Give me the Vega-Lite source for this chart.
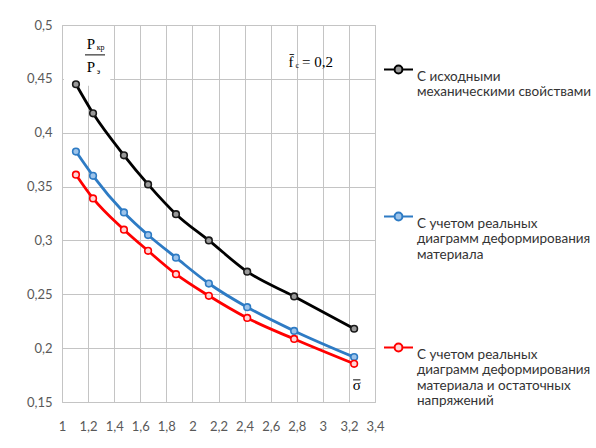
{
  "$schema": "https://vega.github.io/schema/vega-lite/v6.json",
  "width": 313,
  "height": 377,
  "autosize": {"type": "none"},
  "padding": {"left": 62, "top": 25, "right": 221, "bottom": 46},
  "background": "white",
  "config": {
    "view": {"stroke": "#bfbfbf", "strokeWidth": 1},
    "font": "Lato",
    "axis": {"grid": true, "gridColor": "#c4c4c4", "gridOpacity": 1, "gridWidth": 1, "domain": false, "ticks": false, "labelFont": "Lato", "labelFontSize": 13, "labelColor": "#595959", "labelOverlap": false, "labelFlush": false}
  },
  "datasets": {
    "curves": [
      {"series": "A", "sigma": 1.107, "ratio": 0.445},
      {"series": "A", "sigma": 1.238, "ratio": 0.418},
      {"series": "A", "sigma": 1.475, "ratio": 0.379},
      {"series": "A", "sigma": 1.66, "ratio": 0.352},
      {"series": "A", "sigma": 1.874, "ratio": 0.3244},
      {"series": "A", "sigma": 2.126, "ratio": 0.30},
      {"series": "A", "sigma": 2.42, "ratio": 0.271},
      {"series": "A", "sigma": 2.78, "ratio": 0.248},
      {"series": "A", "sigma": 3.24, "ratio": 0.218},
      {"series": "B", "sigma": 1.107, "ratio": 0.3825},
      {"series": "B", "sigma": 1.238, "ratio": 0.36},
      {"series": "B", "sigma": 1.475, "ratio": 0.326},
      {"series": "B", "sigma": 1.66, "ratio": 0.305},
      {"series": "B", "sigma": 1.874, "ratio": 0.284},
      {"series": "B", "sigma": 2.126, "ratio": 0.26},
      {"series": "B", "sigma": 2.42, "ratio": 0.238},
      {"series": "B", "sigma": 2.78, "ratio": 0.216},
      {"series": "B", "sigma": 3.24, "ratio": 0.1917},
      {"series": "C", "sigma": 1.107, "ratio": 0.361},
      {"series": "C", "sigma": 1.238, "ratio": 0.339},
      {"series": "C", "sigma": 1.475, "ratio": 0.31},
      {"series": "C", "sigma": 1.66, "ratio": 0.2904},
      {"series": "C", "sigma": 1.874, "ratio": 0.2687},
      {"series": "C", "sigma": 2.126, "ratio": 0.2486},
      {"series": "C", "sigma": 2.42, "ratio": 0.228},
      {"series": "C", "sigma": 2.78, "ratio": 0.2085},
      {"series": "C", "sigma": 3.24, "ratio": 0.1855}
    ]
  },
  "encoding": {
    "x": {"field": "sigma", "type": "quantitative", "title": null,
      "scale": {"domain": [1, 3.4], "nice": false, "zero": false},
      "axis": {"grid": true, "gridColor": "#c4c4c4", "labelOverlap": false, "labelFlush": false, "values": [1, 1.2, 1.4, 1.6, 1.8, 2, 2.2, 2.4, 2.6, 2.8, 3, 3.2, 3.4], "labelExpr": "replace(format(datum.value, '~g'), '.', ',')", "labelPadding": 18}},
    "y": {"field": "ratio", "type": "quantitative", "title": null,
      "scale": {"domain": [0.15, 0.5], "nice": false, "zero": false},
      "axis": {"grid": true, "gridColor": "#c4c4c4", "labelOverlap": false, "labelFlush": false, "values": [0.15, 0.2, 0.25, 0.3, 0.35, 0.4, 0.45, 0.5], "labelExpr": "replace(format(datum.value, '~g'), '.', ',')", "labelPadding": 10}}
  },
  "layer": [
    {
      "data": {"values": [{"sigma": 1.015, "sigma2": 1.37, "ratio": 0.4435, "ratio2": 0.499}]},
      "mark": {"type": "rect", "fill": "white"},
      "encoding": {
        "x2": {"field": "sigma2"},
        "y2": {"field": "ratio2"}
      }
    },
    {
      "data": {"name": "curves"},
      "mark": {"type": "line", "interpolate": "monotone", "strokeWidth": 2.8},
      "encoding": {
        "color": {"field": "series", "type": "nominal",
          "scale": {"domain": ["A", "B", "C"], "range": ["#000000", "#2e7bc4", "#ff0000"]},
          "legend": {
            "title": null, "orient": "none", "legendX": 321, "legendY": 29,
            "symbolType": "M-1,0H-0.27M0.27,0H1M-0.27,0A0.27,0.27 0 1,0 0.27,0A0.27,0.27 0 1,0 -0.27,0",
            "symbolSize": 841, "symbolStrokeWidth": 2, "symbolFillColor": "#ffffff",
            "labelFont": "Lato", "labelFontSize": 13.5, "labelColor": "#333333", "labelLimit": 0, "labelOffset": 3,
            "labelBaseline": "top", "labelLineHeight": 17.5, "rowPadding": 71,
            "labelExpr": "datum.label == 'A' ? ['С исходными', 'механическими свойствами', ' ', ' '] : datum.label == 'B' ? ['С учетом реальных', 'диаграмм деформирования', 'материала'] : ['С учетом реальных', 'диаграмм деформирования', 'материала и остаточных', 'напряжений']"
          }}
      }
    },
    {
      "data": {"name": "curves"},
      "mark": {"type": "point", "shape": "circle", "size": 44, "strokeWidth": 1.6, "filled": true, "opacity": 1},
      "encoding": {
        "stroke": {"field": "series", "type": "nominal", "scale": {"domain": ["A", "B", "C"], "range": ["#1a1a1a", "#2e7bc4", "#ff0000"]}, "legend": null},
        "fill": {"field": "series", "type": "nominal", "scale": {"domain": ["A", "B", "C"], "range": ["#9a9a9a", "#9cc3ea", "#ffd6d6"]}, "legend": null}
      }
    },
    {
      "data": {"values": [{"sigma": 1.222, "ratio": 0.4824, "t": "P"}, {"sigma": 1.222, "ratio": 0.4606, "t": "P"}, {"sigma": 2.755, "ratio": 0.4657, "t": "f̄"}, {"sigma": 3.26, "ratio": 0.1655, "t": "σ"}]},
      "mark": {"type": "text", "font": "Liberation Serif", "fontSize": 15, "align": "center", "baseline": "middle", "color": "#000000"},
      "encoding": {
        "text": {"field": "t"}
      }
    },
    {
      "data": {"values": [{"sigma": 1.266, "ratio": 0.4785, "t": "кр"}, {"sigma": 1.266, "ratio": 0.4567, "t": "э"}, {"sigma": 2.79, "ratio": 0.4615, "t": "c"}]},
      "mark": {"type": "text", "font": "Liberation Serif", "fontSize": 8, "align": "left", "baseline": "middle", "color": "#000000"},
      "encoding": {
        "text": {"field": "t"}
      }
    },
    {
      "data": {"values": [{"sigma": 2.84, "ratio": 0.4657, "t": "= 0,2"}]},
      "mark": {"type": "text", "font": "Liberation Serif", "fontSize": 15, "align": "left", "baseline": "middle", "color": "#000000"},
      "encoding": {
        "text": {"field": "t"}
      }
    },
    {
      "data": {"values": [{"sigma": 1.176, "sigma2": 1.33, "ratio": 0.4718, "ratio2": 0.4727}, {"sigma": 3.232, "sigma2": 3.288, "ratio": 0.1701, "ratio2": 0.171}]},
      "mark": {"type": "rect", "fill": "#000000"},
      "encoding": {
        "x2": {"field": "sigma2"},
        "y2": {"field": "ratio2"}
      }
    }
  ]
}
